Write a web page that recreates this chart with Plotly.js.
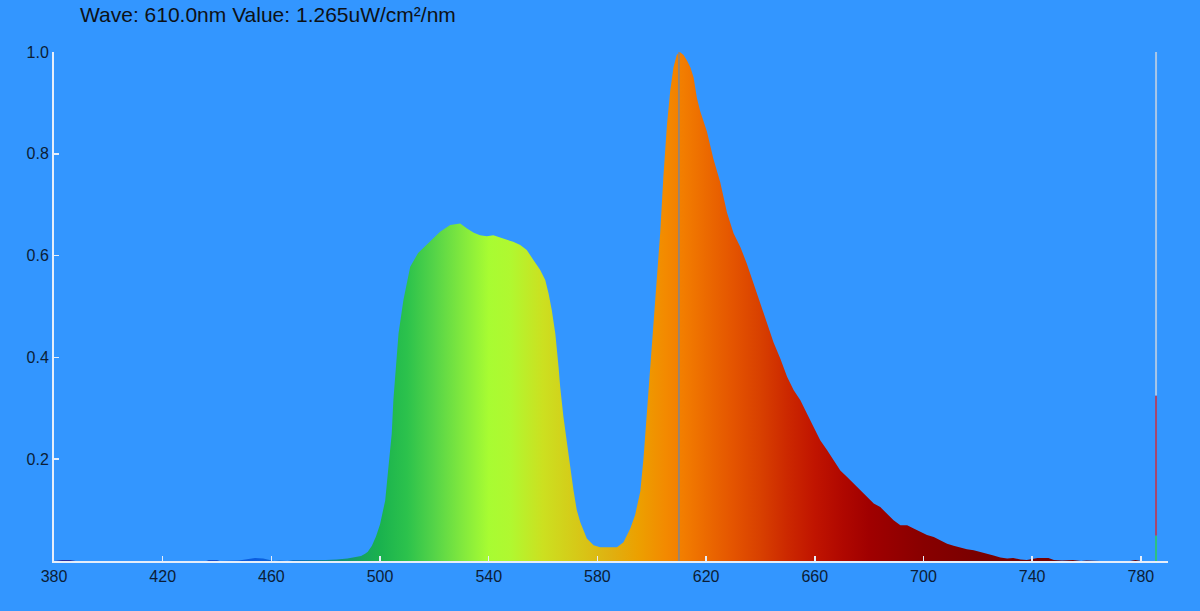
<!DOCTYPE html>
<html><head><meta charset="utf-8">
<script src="https://cdn.plot.ly/plotly-3.0.1.min.js"></script>
<style>html,body{margin:0;padding:0;background:#3396ff}#chart{width:1200px;height:611px}</style>
</head><body><div id="chart"></div>
<script>
// Spectrum (nm, relative value)
const wavelength = [
  380,383,386,388,436,437,440,441,448,451,454,457,459,461,463,466,468,470,472,476,480,484,488,491,493,494.5,
  495.5,497,498.5,500,501.9,503,504.3,504.9,505.9,506.8,508.6,511.1,514,517.2,522.1,525.8,529.5,532,534.5,536.8,
  539.3,541.7,544,546.6,549,551.6,554,556.5,558.9,560.8,562,563.2,564.5,565.7,566.3,567.5,568.8,570,571.2,572.4,
  573.7,576.1,578.6,581,587.2,589.6,592.1,593.9,595.8,597,598.2,599.4,600.7,601.9,603.1,604.3,605.6,606.8,608,
  609.2,610.3,611.7,612.9,614.2,615.4,616.6,617.8,620.3,622.7,625.2,627.7,630.1,632.6,635,637.5,639.9,642.4,
  644.8,647.3,649.8,652.2,654.7,657.1,659.6,662,664.5,666.9,669.4,671.9,674.3,676.8,679.2,681.7,684.1,686.6,
  689,691.5,694,696.4,698.9,701.3,703.8,706.2,708.7,711.1,713.6,716,718.5,720.9,723.4,725.8,728.3,730.8,733,
  735.7,738,740,742,746,748,751,755,758,760,765,776,778,780
];
const irradiance = [
  0.000,0.002,0.002,0.000,0.000,0.002,0.002,0.000,0.001,0.004,0.006,0.005,0.002,0.000,0.001,0.000,0.002,0.002,0.001,0.002,0.002,0.003,0.005,0.008,0.010,0.014,
  0.018,0.030,0.048,0.072,0.119,0.180,0.250,0.316,0.381,0.447,0.513,0.578,0.605,0.621,0.647,0.660,0.663,0.653,0.645,0.640,
  0.638,0.640,0.636,0.632,0.627,0.621,0.611,0.591,0.572,0.552,0.526,0.493,0.447,0.381,0.342,0.283,0.237,0.185,0.139,0.100,
  0.076,0.044,0.031,0.027,0.027,0.037,0.064,0.091,0.137,0.204,0.291,0.377,0.457,0.544,0.644,0.757,0.857,0.924,0.970,
  0.994,1.000,0.994,0.984,0.970,0.950,0.910,0.884,0.844,0.790,0.744,0.684,0.644,0.617,0.584,0.544,0.508,0.468,
  0.430,0.398,0.362,0.336,0.316,0.290,0.264,0.237,0.218,0.198,0.178,0.165,0.152,0.139,0.126,0.113,0.106,0.093,
  0.080,0.070,0.070,0.064,0.057,0.051,0.047,0.041,0.034,0.030,0.026,0.023,0.021,0.018,0.015,0.011,0.007,0.005,0.006,
  0.003,0.002,0.004,0.006,0.006,0.002,0.001,0.002,0.000,0.001,0.000,0.000,0.002,0.000
];
const xTickVals = [380,420,460,500,540,580,620,660,700,740,780];
const xTickText = ['380','420','460','500','540','580','620','660','700','740','780'];
const yTickVals = [0.2,0.4,0.6,0.8,1.0];
const yTickText = ['0.2','0.4','0.6','0.8','1.0'];
const cursorWave = 610.0;
const cursorValue = 1.265;
const meterWave = 785.6;
const meterBounds = [0, 0.05, 0.325, 1.0];
const meterColors = ['#2ec27e','#a9466c','#a8c6e8'];
// spectral colour stops (nm, colour)
const stopWaves = [380,440,455,470,485,495,500,510,520,530,540,548,560,575,585,595,605,612,620,630,640,650,660,670,680,700,720,790];
const stopColors = ['#2a2a9a','#1050d0','#0a5ee0','#0a70c0','#10907a','#18a858','#1ab24e','#2cc24c','#55d448','#80e83e','#a8fc32','#b0f830','#cce020','#d8c416','#e0b010','#eca000','#f38a00','#f27c00','#ec6a00','#e45400','#d84000','#cc2800','#c01400','#b00800','#a00000','#880000','#7a0000','#700000'];

const xMin = 380, xMax = 790;
const colorscale = stopWaves.map((w,i)=>[(w-xMin)/(xMax-xMin), stopColors[i]]);

const spectrum = {
  type:'scatter', mode:'lines', x: wavelength, y: irradiance,
  fill:'tozeroy',
  fillgradient:{type:'horizontal', colorscale: colorscale, start:xMin, stop:xMax},
  line:{width:0, color:'rgba(0,0,0,0)'}, hoverinfo:'skip', showlegend:false
};

const shapes = [
  {type:'line', xref:'x', yref:'y', x0:cursorWave, x1:cursorWave, y0:0, y1:1, line:{color:'#7d8793', width:1.5}}
];
for (let i=0;i<meterColors.length;i++){
  shapes.push({type:'line', xref:'x', yref:'y', x0:meterWave, x1:meterWave, y0:meterBounds[i], y1:meterBounds[i+1], line:{color:meterColors[i], width:2}});
}

const tickFont = {family:'Liberation Sans, Arial, sans-serif', size:16, color:'#0b1d36'};
const layout = {
  width:1200, height:611,
  paper_bgcolor:'#3396ff', plot_bgcolor:'#3396ff',
  margin:{l:54, r:32, t:52, b:50},
  title:{text:`Wave: ${cursorWave.toFixed(1)}nm Value: ${cursorValue.toFixed(3)}uW/cm²/nm`,
    x:80/1200, xref:'container', xanchor:'left', y:1-15/611, yref:'container', yanchor:'middle',
    font:{family:'Liberation Sans, Arial, sans-serif', size:21, color:'#0d1116'}},
  xaxis:{range:[xMin,xMax], tickvals:xTickVals, ticktext:xTickText, showgrid:false, zeroline:false,
    showline:true, linecolor:'#e6eefa', linewidth:2, ticks:'inside', ticklen:5, tickwidth:1.5, tickcolor:'#e6eefa',
    tickfont:tickFont, fixedrange:true},
  yaxis:{range:[0,1], tickvals:yTickVals, ticktext:yTickText, showgrid:false, zeroline:false,
    showline:true, linecolor:'#e6eefa', linewidth:2, ticks:'inside', ticklen:5, tickwidth:1.5, tickcolor:'#e6eefa',
    tickfont:tickFont, fixedrange:true},
  shapes: shapes,
  showlegend:false
};
Plotly.newPlot('chart', [spectrum], layout, {staticPlot:true, displayModeBar:false});
</script>
</body></html>
